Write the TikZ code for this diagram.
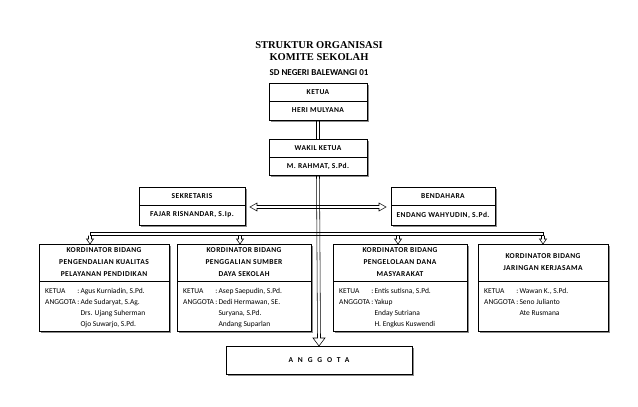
\documentclass[tikz,border=0pt]{standalone}
\usepackage{fontspec}
\setmainfont{Liberation Serif}
\newfontfamily\calfont{Carlito}
\usetikzlibrary{positioning,shadows}

% panah blok ke bawah: #1 pangkal, #2 ujung, #3 setengah lebar kepala, #4 panjang kepala
\newcommand{\panahbawah}[4]{%
  \draw[garis] ([xshift=-1.5pt]#1) -- ([xshift=-1.5pt,yshift=#4]#2) -- ([xshift=-#3,yshift=#4]#2) -- (#2)
    -- ([xshift=#3,yshift=#4]#2) -- ([xshift=1.5pt,yshift=#4]#2) -- ([xshift=1.5pt]#1);}

\begin{document}
\begin{tikzpicture}[x=1pt,y=-1pt,
    box/.style={draw,line width=.6pt,fill=white,inner sep=0pt,outer sep=0pt,align=center,
      drop shadow={shadow xshift=1.8pt,shadow yshift=-1.8pt,fill=black!45,opacity=1},
      font=\calfont\bfseries\fontsize{7.5}{12}\selectfont\addfontfeature{LetterSpace=6}},
    memb/.style={anchor=north west,inner sep=0pt,font=\calfont\fontsize{7.5}{11}\selectfont},
    garis/.style={draw=black,line width=.55pt,line join=miter}]
    \useasboundingbox (0,0) rectangle (638,407);

    % judul
    \node[font=\bfseries\fontsize{10.5}{12}\selectfont,align=center] (judul) at (319,51) {STRUKTUR ORGANISASI\\KOMITE SEKOLAH};
    \node[font=\calfont\bfseries\fontsize{9}{10}\selectfont] (sekolah) at (319,73) {SD NEGERI BALEWANGI 01};

    % ketua, wakil, sekretaris, bendahara
    \node[box,minimum width=98pt,minimum height=18pt] (ketua) at (318,92) {KETUA};
    \node[box,minimum width=98pt,minimum height=19pt,below=0pt of ketua] (ketuaN) {HERI MULYANA};
    \node[box,minimum width=98pt,minimum height=18pt] (wakil) at (318,148) {WAKIL KETUA};
    \node[box,minimum width=98pt,minimum height=18pt,below=0pt of wakil] (wakilN) {M. RAHMAT, S.Pd.};
    \node[box,minimum width=106pt,minimum height=18pt] (sekr) at (192,196) {SEKRETARIS};
    \node[box,minimum width=106pt,minimum height=20pt,below=0pt of sekr] (sekrN) {FAJAR RISNANDAR, S.Ip.};
    \node[box,minimum width=104pt,minimum height=18pt] (bend) at (443,196) {BENDAHARA};
    \node[box,minimum width=104pt,minimum height=20pt,below=0pt of bend] (bendN) {ENDANG WAHYUDIN, S.Pd.};

    % kordinator bidang
    \foreach \n/\x/\w/\t in {k1/104/130/{PENGENDALIAN KUALITAS\\PELAYANAN PENDIDIKAN},
                             k2/244/134/{PENGGALIAN SUMBER\\DAYA SEKOLAH},
                             k3/400/134/{PENGELOLAAN DANA\\MASYARAKAT},
                             k4/543/130/{JARINGAN KERJASAMA}} {
      \node[box,minimum width=\w pt,minimum height=37pt] (\n) at (\x,262.5) {KORDINATOR BIDANG\\\t};
      \node[box,minimum width=\w pt,minimum height=50pt,below=0pt of \n] (\n B) {};
    }
    \node[memb] (t1) at ([shift={(6pt,-5pt)}]k1B.north west) {\begin{tabular}{@{}l@{\,}l@{\,}l@{}}
      KETUA & : & Agus Kurniadin, S.Pd.\\ ANGGOTA & : & Ade Sudaryat, S.Ag.\\ & & Drs. Ujang Suherman\\ & & Ojo Suwarjo, S.Pd.\end{tabular}};
    \node[memb] (t2) at ([shift={(6pt,-5pt)}]k2B.north west) {\begin{tabular}{@{}l@{\,}l@{\,}l@{}}
      KETUA & : & Asep Saepudin, S.Pd.\\ ANGGOTA & : & Dedi Hermawan, SE.\\ & & Suryana, S.Pd.\\ & & Andang Suparlan\end{tabular}};
    \node[memb] (t3) at ([shift={(6pt,-5pt)}]k3B.north west) {\begin{tabular}{@{}l@{\,}l@{\,}l@{}}
      KETUA & : & Entis sutisna, S.Pd.\\ ANGGOTA & : & Yakup\\ & & Enday Sutriana\\ & & H. Engkus Kuswendi\end{tabular}};
    \node[memb] (t4) at ([shift={(6pt,-5pt)}]k4B.north west) {\begin{tabular}{@{}l@{\,}l@{\,}l@{}}
      KETUA & : & Wawan K., S.Pd.\\ ANGGOTA & : & Seno Julianto\\ & & Ate Rusmana\end{tabular}};

    \node[box,minimum width=186pt,minimum height=28pt] (anggota) at (319,360) {\addfontfeature{LetterSpace=65}ANGGOTA};

    % garis rangkap ke kordinator
    \coordinate (relT) at (318,232.5);
    \coordinate (relB) at (318,235.5);
    \foreach \n/\s in {k1/-14pt,k2/-4pt,k3/-2pt,k4/0pt} {
      \coordinate (u\n) at ([xshift=\s]\n.north);
      \coordinate (p\n) at (u\n |- relB);
    }
    \draw[garis] (uk1 |- relT) rectangle (uk4 |- relB);
    \foreach \n in {k1,k2,k3,k4} {
      \panahbawah{p\n}{u\n}{3.5pt}{5pt}
    }

    % sekretaris <-> bendahara
    \coordinate (pL) at ([xshift=5pt,yshift=-2pt]sekr.south east);
    \coordinate (pR) at ([xshift=-5pt,yshift=-2pt]bend.south west);
    \draw[garis] (pL) -- ([shift={(7pt,4pt)}]pL) -- ([shift={(7pt,1.5pt)}]pL) -- ([shift={(-7pt,1.5pt)}]pR)
      -- ([shift={(-7pt,4pt)}]pR) -- (pR) -- ([shift={(-7pt,-4pt)}]pR) -- ([shift={(-7pt,-1.5pt)}]pR)
      -- ([shift={(7pt,-1.5pt)}]pL) -- ([shift={(7pt,-4pt)}]pL) -- cycle;

    % ketua -- wakil -- anggota
    \draw[garis] ([xshift=-1.5pt]ketuaN.south) -- ([xshift=-1.5pt]wakil.north)
      ([xshift=1.5pt]ketuaN.south) -- ([xshift=1.5pt]wakil.north);
    \panahbawah{wakilN.south}{anggota.north}{6pt}{8pt}
\end{tikzpicture}
\end{document}
